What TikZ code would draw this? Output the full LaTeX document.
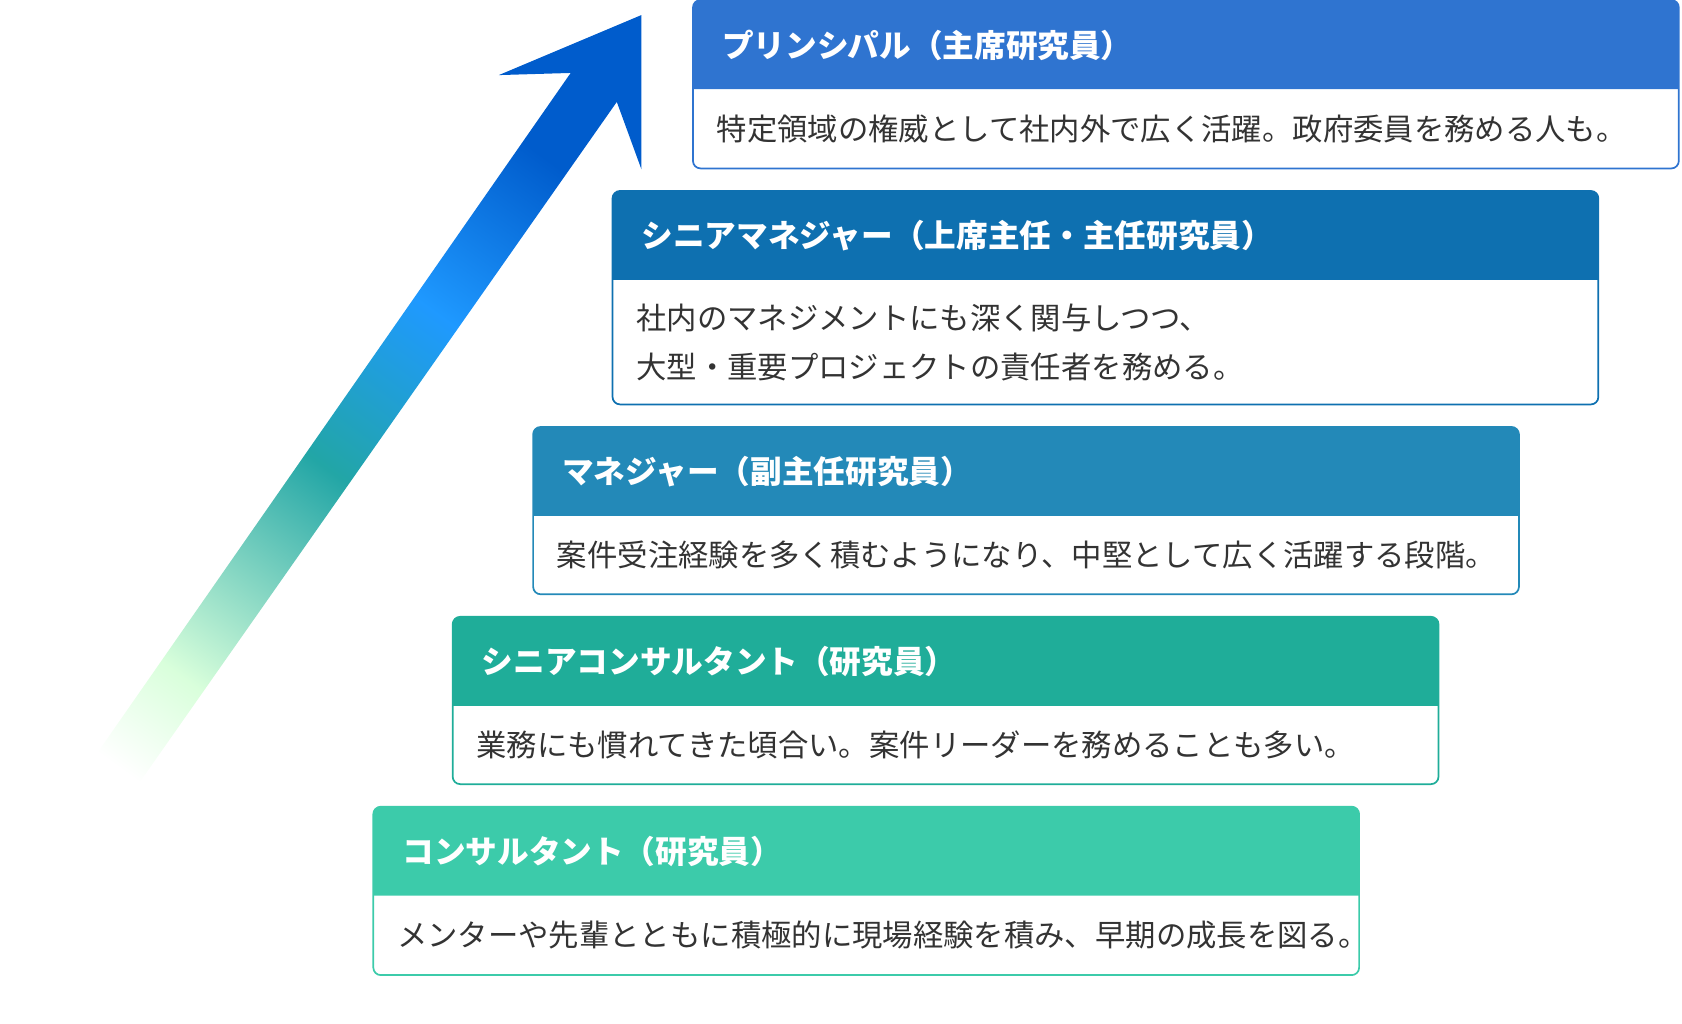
\documentclass[tikz,border=0pt]{standalone}
\usepackage{fontspec}
\setmainfont{Noto Sans CJK JP}
\usetikzlibrary{calc}
\definecolor{cA}{HTML}{2F74D0}
\definecolor{cB}{HTML}{0E70B0}
\definecolor{cC}{HTML}{2389B8}
\definecolor{cD}{HTML}{1FAD99}
\definecolor{cE}{HTML}{3CCBAA}
\definecolor{txt}{HTML}{333333}
\pgfdeclareverticalshading{rise}{100bp}{
  color(0bp)=(white); color(27bp)=(white); color(34bp)=(white!85!cyan!30!green!20);
  color(50bp)=(white!45!cyan!30!teal); color(62bp)=(white!20!cyan!60!blue);
  color(74bp)=(blue!55!cyan!80!black); color(100bp)=(blue!55!cyan!80!black)}
\tikzset{
  ttl/.style={anchor=west,text=white,font=\fontsize{29.5}{34}\selectfont\bfseries,inner sep=0pt},
  bdy/.style={anchor=west,text=txt,font=\fontsize{28.3}{46}\selectfont,inner sep=0pt,align=left},
}
\newcommand{\stagebox}[7]{% name, x0, y0, y1, color, title, body
  \pgfmathsetmacro{\xa}{#2+919}
  \pgfmathsetmacro{\yh}{#3+83}
  \fill[#5] (#2,\yh) {[rounded corners=7pt] -- (#2,#3) -- (\xa,#3)} -- (\xa,\yh) -- cycle;
  \draw[#5,line width=1.6pt,rounded corners=7pt] (#2,#3) rectangle (\xa,#4);
  \node[ttl] (#1t) at ({#2+27},{#3+42}) {#6};
  \node[bdy] (#1b) at ({#2+22},{(\yh+#4)/2}) {#7};
}
\begin{document}
\begin{tikzpicture}[x=1pt,y=-1pt]
\useasboundingbox (0,0) rectangle (1568,954);
\shade[shading=rise,shading angle=-36]
  (5,825) -- (532,68) -- (465,70) -- (598,14) -- (598,158) -- (575,95) -- (42,855) -- cycle;
\stagebox{p}{646}{0}{157}{cA}{プリンシパル（主席研究員）}{特定領域の権威として社内外で広く活躍。政府委員を務める人も。}
\stagebox{s}{571}{178}{377}{cB}{シニアマネジャー（上席主任・主任研究員）}{社内のマネジメントにも深く関与しつつ、\\大型・重要プロジェクトの責任者を務める。}
\stagebox{m}{497}{398}{554}{cC}{マネジャー（副主任研究員）}{案件受注経験を多く積むようになり、中堅として広く活躍する段階。}
\stagebox{sc}{422}{575}{731}{cD}{シニアコンサルタント（研究員）}{業務にも慣れてきた頃合い。案件リーダーを務めることも多い。}
\stagebox{c}{348}{752}{909}{cE}{コンサルタント（研究員）}{メンターや先輩とともに積極的に現場経験を積み、早期の成長を図る。}
\end{tikzpicture}
\end{document}
